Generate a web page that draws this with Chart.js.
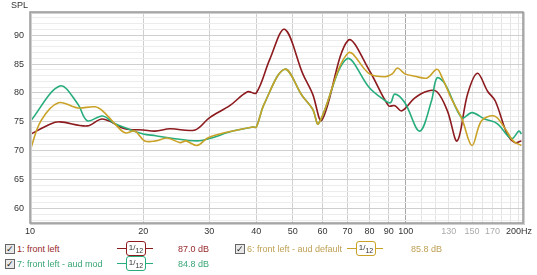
<!DOCTYPE html>
<html>
<head>
<meta charset="utf-8">
<script src="https://cdn.jsdelivr.net/npm/chart.js@4"></script>
<style>
  html, body { margin: 0; padding: 0; background: #fff; }
  body { width: 537px; height: 275px; position: relative; overflow: hidden; font-family: "Liberation Sans", Arial, sans-serif; }
  #wrap { position: absolute; left: 0; top: 0; width: 537px; height: 242px; }
  #spl { position: absolute; left: 11px; top: 0px; font-size: 9px; color: #333; }
  .lg { position: absolute; font-size: 9px; white-space: nowrap; line-height: 10px; }
  .cb { position: absolute; width: 8px; height: 8px; border: 1px solid #666; background: #e8e8e8; font-size: 9px; line-height: 8px; text-align: center; color: #222; }
  .sym { position: absolute; height: 15px; width: 36px; }
  .sym .ln { position: absolute; left: 0; right: 0; top: 6px; height: 1px; }
  .sym .bx { position: absolute; left: 9px; width: 18px; top: -1px; height: 13px; border: 1px solid; border-radius: 3px; background: #fff; font-size: 8px; line-height: 12px; text-align: center; color: #333; }
</style>
</head>
<body>
<div id="wrap"><canvas id="c" width="537" height="242"></canvas></div>
<div id="spl">SPL</div>
<div id="legend"></div>
<script>
// frequency (Hz) / SPL (dB)
const redFreq = [10, 11.3, 12.0, 14.2, 15.6, 17.9, 20, 21.5, 23.6, 27.5, 30, 34, 37.9, 40, 43.5, 47.6, 53.2, 56.5, 59.8, 70.2, 80.1, 89.9, 93.5, 97.6, 105.5, 114, 121, 129, 137, 146, 155, 165, 173, 186, 195, 203];
const redSpl  = [72.8, 74.6, 75.0, 74.3, 75.5, 73.8, 73.6, 73.4, 73.8, 73.6, 75.7, 77.8, 80.2, 80.0, 85.9, 91.0, 83.3, 79.8, 75.3, 89.1, 83.8, 77.8, 77.8, 76.9, 79.1, 80.3, 80.2, 76.9, 71.7, 79.8, 83.4, 80.3, 78.6, 72.9, 71.4, 71.7];

const yelFreq = [10, 10.7, 11.9, 13.4, 14.9, 15.6, 16.8, 17.9, 19, 20.2, 21.6, 23.2, 25.1, 26, 27.8, 29.7, 32, 34.6, 39.2, 40, 42, 47.6, 53, 56.5, 58.6, 70.2, 80, 88, 92, 95, 99.4, 105.5, 114, 121, 125, 132, 141, 150, 159, 172, 183, 193, 203];
const yelSpl  = [70.0, 75.2, 78.3, 77.4, 77.6, 76.9, 74.7, 73.1, 73.4, 71.7, 71.7, 72.2, 71.4, 71.7, 70.9, 72.2, 72.9, 73.4, 74.1, 74.1, 78.1, 84.1, 79.5, 77.2, 74.7, 86.9, 83.3, 82.8, 83.3, 84.3, 83.3, 82.9, 82.6, 84.1, 82.6, 79.1, 75.5, 70.9, 75.2, 76.0, 74.0, 71.7, 70.9];

const grnFreq = [10, 12.0, 13.4, 14.2, 15.6, 16.8, 18.2, 20, 21.6, 23.6, 27.8, 30, 34.6, 39.2, 40, 42, 47.6, 53, 56.5, 58.6, 69.6, 80, 86.6, 91, 93.4, 99.4, 108.8, 117, 121, 127, 141, 150, 162, 175, 191, 200, 203];
const grnSpl  = [75.0, 81.2, 78.1, 75.2, 76.0, 74.7, 73.8, 72.9, 72.6, 72.2, 71.7, 72.1, 73.4, 74.1, 74.1, 78.1, 84.1, 79.5, 77.2, 74.7, 85.9, 80.9, 79.0, 78.3, 79.8, 78.3, 73.4, 78.6, 82.6, 81.6, 75.7, 76.6, 75.5, 74.7, 72.1, 73.4, 72.9];

const xTicks = [10, 20, 30, 40, 50, 60, 70, 80, 90, 100, 110, 120, 130, 140, 150, 160, 170, 180, 190, 200];
const xLabels = ['10', '20', '30', '40', '50', '60', '70', '80', '90', '100', '', '', '130', '', '150', '', '170', '', '', '200Hz'];
const yLabelStep = 5;

const colors = {
  red: '#8c1a1e',
  yellow: '#c9a227',
  green: '#27ad7c',
};

const toPoints = (xs, ys) => xs.map((x, i) => ({ x, y: ys[i] }));

const series = [
  { label: '6: front left - aud default', freq: yelFreq, spl: yelSpl, color: colors.yellow },
  { label: '7: front left - aud mod', freq: grnFreq, spl: grnSpl, color: colors.green },
  { label: '1: front left', freq: redFreq, spl: redSpl, color: colors.red },
];

const frame = {
  id: 'frame',
  afterDraw(chart) {
    const { ctx, chartArea: a } = chart;
    ctx.save();
    ctx.strokeStyle = '#d0d0d0';
    ctx.lineWidth = 2;
    ctx.strokeRect(a.left + 1, a.top + 1, a.right - a.left, a.bottom - a.top);
    ctx.strokeStyle = '#999';
    ctx.lineWidth = 1.5;
    ctx.strokeRect(a.left, a.top, a.right - a.left, a.bottom - a.top);
    ctx.restore();
  },
};

new Chart(document.getElementById('c'), {
  type: 'line',
  data: {
    datasets: series.map((s) => ({
      label: s.label,
      data: toPoints(s.freq, s.spl),
      borderColor: s.color,
      borderWidth: 1.6,
      pointRadius: 0,
      tension: 0.35,
      fill: false,
    })),
  },
  options: {
    responsive: false,
    animation: false,
    events: [],
    layout: { padding: { top: 12, right: 14, left: 0, bottom: 0 } },
    plugins: { legend: { display: false }, tooltip: { enabled: false } },
    scales: {
      x: {
        type: 'logarithmic',
        min: 10,
        max: 205,
        afterBuildTicks: (scale) => { scale.ticks = xTicks.map((v) => ({ value: v })); },
        afterFit: (scale) => { scale.height = 19; },
        ticks: {
          autoSkip: false,
          maxRotation: 0,
          padding: 3,
          font: { size: 9, family: 'Liberation Sans, Arial, sans-serif' },
          color: (c) => ([130, 150, 170].includes(c.tick.value) ? '#aaa' : '#333'),
          callback: (v, i) => xLabels[i],
        },
        grid: {
          drawTicks: false,
          color: (c) => {
            const v = c.tick && c.tick.value;
            if (v === 100) return '#a8a8a8';
            if (v > 100) return '#e4e4e4';
            return '#cfcfcf';
          },
        },
        border: { display: false },
      },
      y: {
        min: 57.5,
        max: 94,
        afterBuildTicks: (scale) => {
          const t = [];
          for (let v = 58; v <= 94; v += 1) t.push({ value: v });
          scale.ticks = t;
        },
        afterFit: (scale) => { scale.width = 30; },
        ticks: {
          autoSkip: false,
          padding: 6,
          font: { size: 9, family: 'Liberation Sans, Arial, sans-serif' },
          color: '#333',
          callback: (v) => (v % yLabelStep === 0 ? String(v) : ''),
        },
        grid: {
          drawTicks: false,
          color: (c) => (c.tick && c.tick.value % 5 === 0 ? '#cfcfcf' : '#ececec'),
        },
        border: { display: false },
      },
    },
  },
  plugins: [frame],
});

// legend rows below the chart
const legendItems = [
  { text: '1: front left', color: colors.red, textColor: '#96282c', value: '87.0 dB', x: 5, y: 244 },
  { text: '6: front left - aud default', color: colors.yellow, textColor: '#bfa055', value: '85.8 dB', x: 235, y: 244 },
  { text: '7: front left - aud mod', color: colors.green, textColor: '#3aa676', value: '84.8 dB', x: 5, y: 259 },
];

const legendEl = document.getElementById('legend');
legendItems.forEach((it) => {
  const symX = it.x === 5 ? 117 : 347;
  const valX = it.x === 5 ? 178 : 411;
  legendEl.insertAdjacentHTML('beforeend', `
    <div class="cb" style="left:${it.x}px;top:${it.y}px">&#10003;</div>
    <div class="lg" style="left:${it.x + 12}px;top:${it.y}px;color:${it.textColor}">${it.text}</div>
    <div class="sym" style="left:${symX}px;top:${it.y - 2}px">
      <div class="ln" style="background:${it.color}"></div>
      <div class="bx" style="border-color:${it.color}">1/<sub style="font-size:7px">12</sub></div>
    </div>
    <div class="lg" style="left:${valX}px;top:${it.y}px;color:${it.textColor}">${it.value}</div>
  `);
});
</script>
</body>
</html>
